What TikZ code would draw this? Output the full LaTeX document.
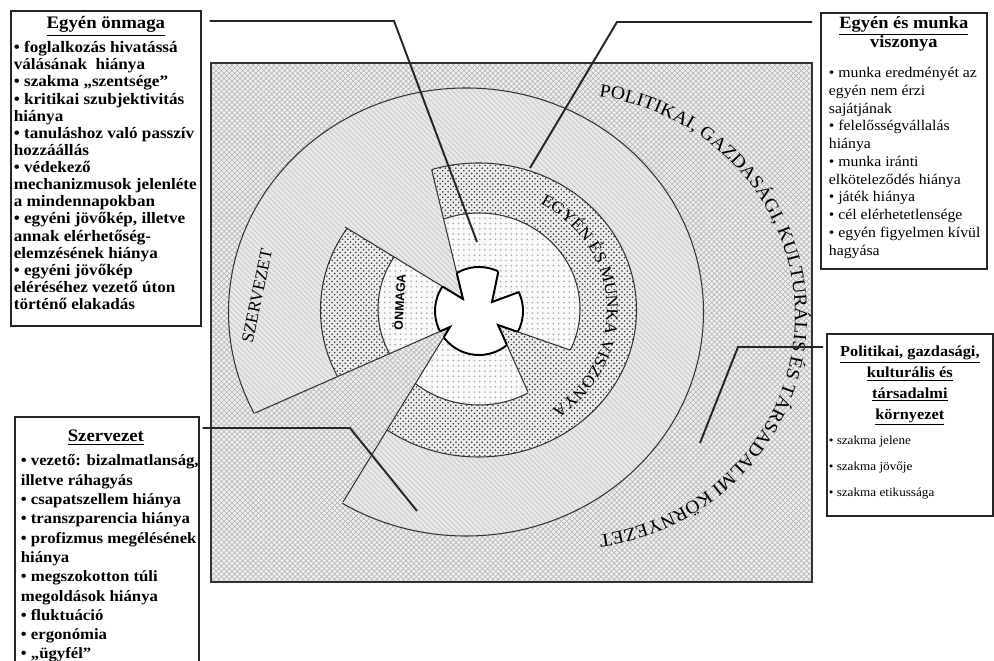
\documentclass[tikz,border=0pt]{standalone}
\usepackage{fontspec}
\setmainfont{Liberation Serif}
\newfontfamily\widefont{Liberation Serif}[FakeStretch=1.07]
\newfontfamily\labelsans{Liberation Sans}
\usetikzlibrary{patterns,decorations.text}

\newlength{\padx}
\newcommand{\boxhead}[2][9pt]{\hbox to\hsize{\hss\rule{0pt}{#1}\underline{#2}\hss}}
\newcommand{\boxheadplain}[2][9pt]{\hbox to\hsize{\hss\rule{0pt}{#1}#2\hss}}
\newcommand{\boxrow}[1]{\hbox{\hspace*{\padx}#1}}

\tikzset{
  umwelt/.style={preaction={fill=gray!12}, pattern=crosshatch, pattern color=gray!55},
  szerv/.style={preaction={fill=gray!18}, pattern=north west lines, pattern color=gray!45},
  viszony/.style={preaction={fill=gray!15}, pattern=crosshatch dots, pattern color=black!80},
  onmaga/.style={preaction={fill=gray!5}, pattern=dots, pattern color=gray!70},
  rim/.style={draw=gray!40!black, line width=0.6pt},
  core/.style={fill=white, draw=black, line width=1.1pt},
  notch/.style={draw=black, line width=1.1pt},
  callout/.style={draw=black!85, line width=1.1pt},
  infobox/.style={draw=black!85, line width=1pt, anchor=north west, inner sep=0pt, fill=white},
}

\begin{document}
\begin{tikzpicture}[x=0.02cm, y=-0.02cm]
  \useasboundingbox (0,0) rectangle (994,661);
  \clip (0,0) rectangle (994,661);

  % környezet, szervezet, viszony, önmaga
  \path[umwelt] (211,63) rectangle (812,582);
  \draw[rim] (211,63) rectangle (812,582);
  \path[szerv, rim] (466,312) ellipse [x radius=237.5, y radius=224];
  \path[viszony, rim] (478.5,310) ellipse [x radius=158, y radius=147];
  \path[onmaga, rim] (479,309) ellipse [x radius=101, y radius=96];
  \path[core] (479,311) circle [radius=44];

  \coordinate (tipU) at (450,327);
  \coordinate (tipS) at (463,299);
  \coordinate (tipV) at (498,325);
  \coordinate (tipO) at (492,302);

  \path[umwelt] (tipU) -- (226,426) -- (327,528) -- cycle;
  \path[szerv] (tipS) -- (327.3,216.2) -- (427,150.7) -- cycle;
  \path[viszony] (tipV) -- (532.5,402) -- (580.8,353.8) -- cycle;
  \path[onmaga] (tipO) -- (501.5,256.5) -- (534,287) -- cycle;

  \draw[rim] (255,413) -- (tipU) -- (343,502);
  \draw[rim] (345,227) -- (tipS) -- (431.7,170);
  \draw[rim] (528,392) -- (tipV) -- (570,350);
  \draw[rim] (498.3,271.7) -- (tipO) -- (520,291.7);
  \begin{scope}
    \clip (479,311) circle [radius=44];
    \draw[notch] (255,413) -- (tipU) -- (343,502);
    \draw[notch] (345,227) -- (tipS) -- (431.7,170);
    \draw[notch] (528,392) -- (tipV) -- (570,350);
    \draw[notch] (498.3,271.7) -- (tipO) -- (520,291.7);
  \end{scope}

  \path[decorate, decoration={text along path, text align=center,
      text={|\widefont\fontsize{10.5}{12}\selectfont|POLITIKAI, GAZDASÁGI, KULTURÁLIS ÉS TÁRSADALMI KÖRNYEZET}}]
    (597,96) arc [start angle=-82, end angle=82, x radius=230, y radius=222];
  \path[decorate, decoration={text along path, text align=center,
      text={|\widefont\fontsize{9.4}{11}\selectfont|EGYÉN ÉS MUNKA VISZONYA}}]
    (539.1,203.1) arc [start angle=-62, end angle=56, x radius=128, y radius=121];
  \node[rotate=78, font=\fontsize{9.8}{11}\selectfont] (szervlabel) at (257,296) {SZERVEZET};
  \node[rotate=87, font=\labelsans\bfseries\fontsize{7}{8}\selectfont] (onmagalabel) at (399,302) {ÖNMAGA};

  \node[infobox] (abox) at (10,10) {\parbox[t][6.3cm][t]{3.8cm}{%
    \setlength{\lineskiplimit}{-\maxdimen}\setlength{\padx}{0.06cm}%
    \widefont\bfseries\fontsize{10}{9.75}\selectfont
    \boxhead[10.2pt]{Egyén önmaga}
    \fontsize{9.1}{9.75}\selectfont
    \vspace{3.85pt}
    \boxrow{• foglalkozás hivatássá}
    \boxrow{válásának\ \ hiánya}
    \boxrow{• szakma „szentsége”}
    \boxrow{• kritikai szubjektivitás}
    \boxrow{hiánya}
    \boxrow{• tanuláshoz való passzív}
    \boxrow{hozzáállás}
    \boxrow{• védekező}
    \boxrow{mechanizmusok jelenléte}
    \boxrow{a mindennapokban}
    \boxrow{• egyéni jövőkép, illetve}
    \boxrow{annak elérhetőség-}
    \boxrow{elemzésének hiánya}
    \boxrow{• egyéni jövőkép}
    \boxrow{eléréséhez vezető úton}
    \boxrow{történő elakadás}}};

  \node[infobox] (bbox) at (820,12) {\parbox[t][5.12cm][t]{3.32cm}{%
    \setlength{\lineskiplimit}{-\maxdimen}\setlength{\padx}{0.16cm}%
    \widefont\bfseries\fontsize{9.8}{10.8}\selectfont
    \boxhead[8.8pt]{Egyén és munka}
    \boxheadplain{viszonya}
    \mdseries\fontsize{8.4}{10.1}\selectfont
    \vspace{7.2pt}
    \boxrow{• munka eredményét az}
    \boxrow{egyén nem érzi}
    \boxrow{sajátjának}
    \boxrow{• felelősségvállalás}
    \boxrow{hiánya}
    \boxrow{• munka iránti}
    \boxrow{elköteleződés hiánya}
    \boxrow{• játék hiánya}
    \boxrow{• cél elérhetetlensége}
    \boxrow{• egyén figyelmen kívül}
    \boxrow{hagyása}}};

  \node[infobox] (cbox) at (826,333) {\parbox[t][3.64cm][t]{3.32cm}{%
    \setlength{\lineskiplimit}{-\maxdimen}\setlength{\padx}{0.04cm}%
    \widefont\bfseries\fontsize{8.7}{11.9}\selectfont
    \boxhead[12.8pt]{Politikai, gazdasági,}
    \boxhead{kulturális és}
    \boxhead{társadalmi}
    \boxhead{környezet}
    \mdseries\fontsize{7}{14.7}\selectfont
    \vspace{0pt}
    \boxrow{• szakma jelene}
    \boxrow{• szakma jövője}
    \boxrow{• szakma etikussága}}};

  \node[infobox] (dbox) at (14,416) {\parbox[t][5.4cm][t]{3.64cm}{%
    \setlength{\lineskiplimit}{-\maxdimen}\setlength{\padx}{0.12cm}%
    \widefont\bfseries\fontsize{10}{11}\selectfont
    \boxhead[14.2pt]{Szervezet}
    \fontsize{8.9}{11}\selectfont
    \vspace{2.6pt}
    \boxrow{• vezető: bizalmatlanság,}
    \boxrow{illetve ráhagyás}
    \boxrow{• csapatszellem hiánya}
    \boxrow{• transzparencia hiánya}
    \boxrow{• profizmus megélésének}
    \boxrow{hiánya}
    \boxrow{• megszokotton túli}
    \boxrow{megoldások hiánya}
    \boxrow{• fluktuáció}
    \boxrow{• ergonómia}
    \boxrow{• „ügyfél”}}};

  \coordinate (k1) at (394,21);  \coordinate (e1) at (477,242);
  \coordinate (k2) at (617,22);  \coordinate (e2) at (530,168);
  \coordinate (k3) at (738,347); \coordinate (e3) at (700,443);
  \coordinate (k4) at (350,428); \coordinate (e4) at (417,511);
  \draw[callout, shorten <=0.16cm] (abox.east |- k1) -- (k1) -- (e1);
  \draw[callout, shorten <=0.16cm] (bbox.west |- k2) -- (k2) -- (e2);
  \draw[callout, shorten <=0.06cm] (cbox.west |- k3) -- (k3) -- (e3);
  \draw[callout, shorten <=0.06cm] (dbox.east |- k4) -- (k4) -- (e4);
\end{tikzpicture}
\end{document}
